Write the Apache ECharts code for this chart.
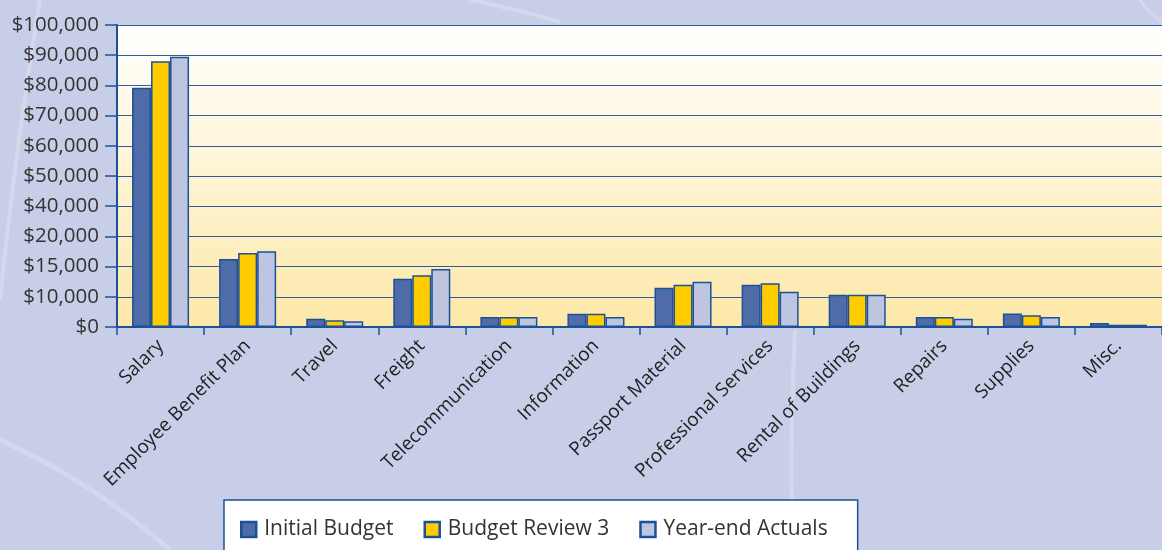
<!DOCTYPE html>
<html>
<head>
<meta charset="utf-8">
<script src="https://cdn.jsdelivr.net/npm/echarts@6/dist/echarts.min.js"></script>
<style>
  html, body { margin: 0; padding: 0; background: #c9cee8; }
  #chart { width: 1162px; height: 550px; }
</style>
</head>
<body>
<div id="chart"></div>
<script>
// budget categories and amounts ($)
var categories = ['Salary', 'Employee Benefit Plan', 'Travel', 'Freight', 'Telecommunication',
    'Information', 'Passport Material', 'Professional Services', 'Rental of Buildings',
    'Repairs', 'Supplies', 'Misc.'];
var initialBudget = [79200, 22500, 2750, 16000, 3300, 4400, 13000, 14000, 10700, 3300, 4500, 1300];
var budgetReview3 = [88000, 24500, 2200, 17100, 3300, 4400, 14000, 14500, 10700, 3300, 3900, 750];
var yearEndActuals = [89500, 25100, 1900, 19200, 3300, 3300, 15000, 11700, 10700, 2750, 3300, 750];
// tick labels as printed on the original axis (one per 10,000 step)
var tickLabels = ['$0', '$10,000', '$15,000', '$20,000', '$40,000',
    '$50,000', '$60,000', '$70,000', '$80,000', '$90,000', '$100,000'];

var chart = echarts.init(document.getElementById('chart'));
var font = 'Open Sans';
var blue = '#1d5197';

function bar(name, data, color) {
    return {
        name: name,
        type: 'bar',
        data: data,
        barWidth: 19,
        barGap: '0%',
        itemStyle: { color: color, borderColor: blue, borderWidth: 1.5 }
    };
}

// faint light swooshes in the page background
function swoosh(x1, y1, cx, cy, x2, y2, w) {
    return {
        type: 'bezierCurve', z: -10, silent: true,
        shape: { x1: x1, y1: y1, cpx1: cx, cpy1: cy, x2: x2, y2: y2 },
        style: { fill: null, stroke: 'rgba(255,255,255,0.22)', lineWidth: w }
    };
}

var option = {
    backgroundColor: '#c9cee8',
    animation: false,
    textStyle: { fontFamily: font },
    graphic: [
        swoosh(0, 440, 90, 480, 170, 550, 5),
        swoosh(40, 0, 15, 150, 0, 300, 4),
        swoosh(795, 330, 790, 430, 792, 520, 4),
        swoosh(470, 0, 520, 10, 560, 22, 4),
        swoosh(1140, 0, 1150, 15, 1162, 22, 3)
    ],
    grid: {
        left: 117, right: 0, top: 25, bottom: 223,
        show: true,
        borderWidth: 0,
        backgroundColor: {
            type: 'linear', x: 0, y: 0, x2: 0, y2: 1,
            colorStops: [{ offset: 0, color: '#ffffff' }, { offset: 1, color: '#fde8a8' }]
        }
    },
    legend: {
        left: 224, top: 500,
        padding: [19, 30, 30, 16],
        backgroundColor: '#ffffff',
        borderColor: blue,
        borderWidth: 1.5,
        itemWidth: 15, itemHeight: 15, itemGap: 30,
        icon: 'rect',
        itemStyle: { borderWidth: 2.5 },
        textStyle: { fontSize: 21, color: '#333', fontFamily: font, padding: [0, 0, 0, 3] },
        data: ['Initial Budget', 'Budget Review 3', 'Year-end Actuals']
    },
    xAxis: {
        type: 'category',
        data: categories,
        axisLine: { lineStyle: { color: blue, width: 2 } },
        axisTick: { show: true, length: 8, lineStyle: { color: blue, width: 1.5 } },
        axisLabel: { rotate: 45, fontSize: 19, color: '#222', margin: 16, interval: 0 }
    },
    yAxis: {
        type: 'value',
        min: 0, max: 100000, interval: 10000,
        axisLine: { show: true, lineStyle: { color: blue, width: 2 } },
        axisTick: { show: true, length: 12, lineStyle: { color: blue, width: 1.5 } },
        axisLabel: {
            fontSize: 20.5, color: '#333', margin: 18,
            formatter: function (v) { return tickLabels[Math.round(v / 10000)]; }
        },
        splitLine: { lineStyle: { color: '#2f5e9c', width: 1.2 } }
    },
    series: [
        bar('Initial Budget', initialBudget, '#4f6ca8'),
        bar('Budget Review 3', budgetReview3, '#ffcc00'),
        bar('Year-end Actuals', yearEndActuals, '#bec5e1')
    ]
};

chart.setOption(option);
</script>
</body>
</html>
